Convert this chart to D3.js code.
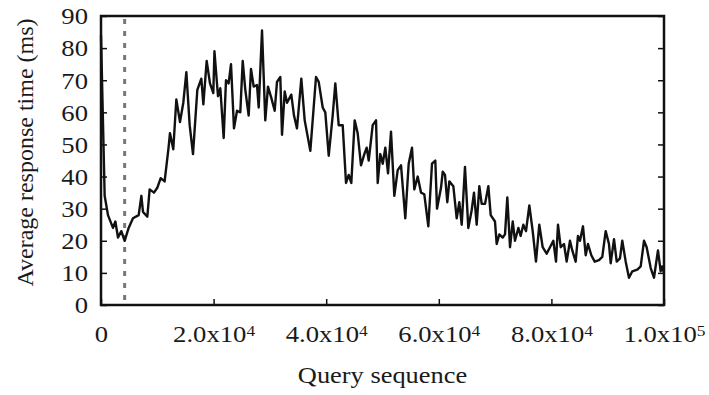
<!DOCTYPE html>
<html lang="en">
<head>
  <meta charset="UTF-8">
  <title>Average response time per query</title>
  <script src="https://d3js.org/d3.v7.min.js"></script>
  <style>
    body { margin: 0; background: #fff; }
    text { font-family: "Liberation Serif", "Times New Roman", serif; fill: #1a1a1a; }
    .tick line { stroke: #111; stroke-width: 1.5; }
    .series { fill: none; stroke: #111; stroke-width: 2.4; stroke-linejoin: round; }
    .frame { fill: none; stroke: #111; stroke-width: 2.5; }
    .marker { stroke: #777; stroke-width: 3; stroke-dasharray: 5,7; }
  </style>
</head>
<body>
  <svg id="chart" width="709" height="395"></svg>

  <script>
    // Query sequence positions of the traced line vertices
    const queries = [
      0, 650, 1240, 2130, 2550, 3020, 3610, 4200, 4910, 5680, 6690, 7170, 7460, 8230, 8640,
      9410, 10000, 10600, 11300, 12000, 12250, 12840, 13380, 14030, 14620, 15160, 15750,
      16340, 17110, 17820, 18180, 18770, 19360, 19950, 20150, 20780, 21190, 21790, 22200,
      22670, 23090, 23620, 24160, 24740, 25170, 25630, 26230, 26640, 27120, 27710, 28010,
      28600, 29180, 29660, 30250, 30850, 31260, 31850, 32150, 32630, 33040, 33800, 34280,
      34810, 35580, 36180, 37180, 38190, 38670, 39380, 39840, 40450, 41150, 41620, 42220,
      42930, 43520, 44000, 44460, 45060, 45590, 46180, 46770, 47190, 47550, 48260, 48850,
      49150, 49610, 50040, 50500, 50980, 51510, 52100, 52700, 53290, 54050, 54650, 55240,
      55650, 56250, 56840, 57420, 58140, 58790, 59380, 59680, 60390, 60700, 61100, 61510,
      61870, 62580, 63180, 63640, 64070, 64650, 65240, 65840, 66250, 66730, 67200, 67620,
      68210, 68800, 69220, 69980, 70280, 70750, 71350, 71760, 72170, 72650, 73130, 73530,
      74130, 74540, 75010, 75490, 76080, 76680, 77260, 77850, 78450, 79160, 79750, 80340,
      80820, 81170, 81650, 82240, 82710, 83300, 83710, 84310, 84720, 85080, 85610, 86090,
      86500, 87090, 87690, 88450, 89040, 89640, 90230, 90530, 91120, 91600, 92180, 92590,
      93200, 93780, 94370, 95260, 95860, 96450, 96920, 97640, 98220, 98930, 99410, 99650,
      100000
    ];

    // Average response time (ms) at each vertex
    const times = [
      84, 34, 28, 24, 26, 21, 23, 20, 24, 27, 28, 34, 29, 27.5, 36,
      35, 36.5, 39.5, 38.5, 49, 53.5, 48.5, 64, 57, 63, 72.5, 56,
      47, 67, 70.5, 62.5, 76, 69, 66, 79, 65, 67.5, 52, 70,
      69, 75, 55, 60.5, 60, 76, 67, 59, 73.5, 68, 68.5, 61.5,
      85.5, 57.5, 68, 64.5, 60.5, 69.5, 71, 53, 66.5, 63, 65.5, 59,
      55, 70.5, 57.5, 48, 71, 69.5, 61.5, 60, 46.5, 59, 69, 56,
      56, 38, 40.5, 38, 57.5, 53.5, 43.5, 47, 49, 45, 56, 57.5,
      38, 47, 44, 49, 41, 54, 34, 42, 43.5, 27, 44, 49,
      36, 40, 35, 34.5, 24.5, 44, 45, 30, 36.5, 41.5, 40.5, 32,
      38.5, 37, 27, 32, 25, 43, 24, 29.5, 35, 25, 37, 31.5,
      31.5, 37, 28, 26, 19, 22, 21, 22, 33.5, 18, 26, 20,
      24, 21.5, 25, 23, 31, 23, 13.5, 25, 18, 16, 18, 20,
      13.5, 25, 18, 19, 13.5, 20, 17, 13.5, 21.5, 20, 24.5, 15.5,
      19, 15.5, 13.5, 14, 15, 23, 19, 13, 20.5, 13.5, 14.5, 20,
      13.5, 8.5, 10.5, 11, 12, 20, 18, 11.5, 8.5, 17, 10.5, 12,
      10
    ];

    const xTicks = [0, 20000, 40000, 60000, 80000, 100000];
    const yTicks = [0, 10, 20, 30, 40, 50, 60, 70, 80, 90];
    const markerQuery = 4200;

    const margin = { top: 16, right: 45, bottom: 90, left: 101 };
    const width = 709 - margin.left - margin.right;
    const height = 395 - margin.top - margin.bottom;
    const stretch = 1.16; // the source text is a little wide

    const svg = d3.select("#chart")
      .append("g")
      .attr("transform", "translate(" + margin.left + "," + margin.top + ")");

    const x = d3.scaleLinear().domain([0, 100000]).range([0, width]);
    const y = d3.scaleLinear().domain([0, 90]).range([height, 0]);

    // y axis (left) with inward ticks
    const yAxis = svg.append("g")
      .call(d3.axisLeft(y).tickValues(yTicks).tickSizeInner(-6).tickSizeOuter(0).tickPadding(0));
    yAxis.select(".domain").remove();
    yAxis.selectAll("text")
      .style("font-size", "23px")
      .attr("x", 0)
      .attr("dy", "0.34em")
      .attr("transform", "translate(-13,0) scale(" + stretch + ",1)");

    // right side ticks, no labels
    const yRight = svg.append("g")
      .attr("transform", "translate(" + width + ",0)")
      .call(d3.axisRight(y).tickValues(yTicks).tickSizeInner(-6).tickSizeOuter(0).tickFormat(""));
    yRight.select(".domain").remove();

    // x axis (bottom)
    const xAxis = svg.append("g")
      .attr("transform", "translate(0," + height + ")")
      .call(d3.axisBottom(x).tickValues(xTicks).tickSizeInner(-6).tickSizeOuter(0).tickPadding(21).tickFormat(""));
    xAxis.select(".domain").remove();
    xAxis.selectAll("text").each(function (d) {
      const t = d3.select(this)
        .style("font-size", "23px")
        .attr("dy", "0.71em")
        .attr("transform", "scale(" + stretch + ",1)");
      if (d === 0) { t.text("0"); return; }
      const exp = Math.floor(Math.log10(d));
      const mant = d / Math.pow(10, exp);
      t.append("tspan").text(mant.toFixed(1) + "x10");
      t.append("tspan").attr("dy", "-0.45em").style("font-size", "15px").text(exp);
    });

    // dashed marker
    svg.append("line")
      .attr("class", "marker")
      .attr("x1", x(markerQuery)).attr("x2", x(markerQuery))
      .attr("y1", 3).attr("y2", height);

    // series line
    const line = d3.line()
      .x((d, i) => x(queries[i]))
      .y(d => y(d));
    svg.append("path")
      .datum(times)
      .attr("class", "series")
      .attr("d", line);

    // frame
    svg.append("rect")
      .attr("class", "frame")
      .attr("width", width)
      .attr("height", height);

    // axis labels
    svg.append("text")
      .attr("transform", "translate(" + (width / 2) + "," + (height + 78) + ") scale(1.1,1)")
      .style("text-anchor", "middle")
      .style("font-size", "24px")
      .text("Query sequence");

    svg.append("text")
      .attr("transform", "rotate(-90)")
      .attr("x", -(height / 2) + 8)
      .attr("y", -margin.left + 33)
      .style("text-anchor", "middle")
      .style("font-size", "24px")
      .text("Average response time (ms)");
  </script>
</body>
</html>
